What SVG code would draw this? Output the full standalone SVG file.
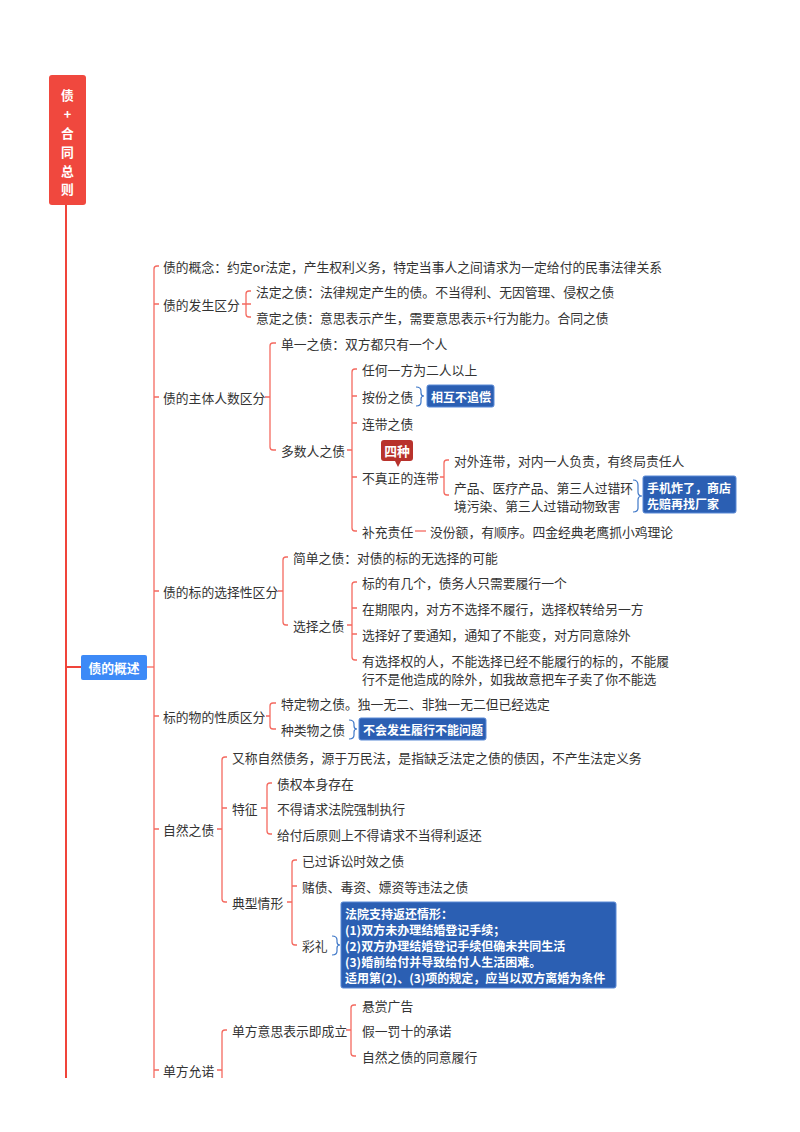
<svg xmlns="http://www.w3.org/2000/svg" width="800" height="1132" viewBox="0 0 800 1132">
<style>
text{font-family:"Noto Sans CJK SC","Liberation Sans",sans-serif;font-size:12.8px;fill:#333;dominant-baseline:central}
.w{fill:#fff;font-weight:bold}
.s{font-size:12px}
.l{fill:none;stroke:#f46a60;stroke-width:1.3}
.t{fill:none;stroke:#f0443a;stroke-width:2}
.b{fill:none;stroke:#3f78c8;stroke-width:1.2}
.bx{fill:#2b5fb3;stroke:#5b8ad6;stroke-width:1}
</style>
<rect width="800" height="1132" fill="#fff"/>
<g id="connectors">
<path class="t" d="M66,205 V1078"/>
<path class="t" d="M66,667 H81"/>
<path class="l" d="M147,667 H154"/>
<path class="l" d="M159,266 H157 Q154,266 154,269 V1078"/>
<path class="l" d="M154,304 H159 M154,397 H159 M154,591 H159 M154,716 H159 M154,829 H159 M154,1070 H159"/>
<path class="l" d="M242,304 H251 M251,291 H249 Q246,291 246,294 V314 Q246,317 249,317 H251"/>
<path class="l" d="M265,397 H270 M276,343 H273 Q270,343 270,346 V447 Q270,450 273,450 H276"/>
<path class="l" d="M347,450 H352 M357,369 H355 Q352,369 352,372 V528 Q352,531 355,531 H357 M352,396 H357 M352,423 H357 M352,477 H357"/>
<path class="b" d="M416,387 Q421,387 421,391 V393 Q421,396 424,396 Q421,396 421,399 V402 Q421,406 416,406"/>
<path class="l" d="M440,477 H444 M449,460 H447 Q444,460 444,463 V492 Q444,495 447,495 H449"/>
<path class="b" d="M633,480 Q638,480 638,485 V492 Q638,496 642,496 Q638,496 638,500 V508 Q638,512 633,512"/>
<path class="l" d="M415,531 H426"/>
<path class="l" d="M278,591 H283 M288,557 H286 Q283,557 283,560 V622 Q283,625 286,625 H288"/>
<path class="l" d="M347,625 H352 M357,582 H355 Q352,582 352,585 V657 Q352,660 355,660 H357 M352,608 H357 M352,634 H357"/>
<path class="l" d="M266,716 H270 M276,703 H273 Q270,703 270,706 V726 Q270,729 273,729 H276"/>
<path class="b" d="M349,720 Q354,720 354,724 V726 Q354,729 357,729 Q354,729 354,732 V735 Q354,739 349,739"/>
<path class="l" d="M217,829 H222 M227,757 H225 Q222,757 222,760 V899 Q222,902 225,902 H227 M222,808 H227"/>
<path class="l" d="M261,808 H267 M272,783 H270 Q267,783 267,786 V831 Q267,834 270,834 H272"/>
<path class="l" d="M287,902 H292 M297,860 H295 Q292,860 292,863 V942 Q292,945 295,945 H297 M292,886 H297"/>
<path class="b" d="M332,936 Q337,936 337,940 V942 Q337,945 340,945 Q337,945 337,948 V951 Q337,955 332,955"/>
<path class="l" d="M217,1070 H222 M227,1030 H225 Q222,1030 222,1033 V1078"/>
<path class="l" d="M346,1030 H351 M356,1005 H354 Q351,1005 351,1008 V1053 Q351,1056 354,1056 H356"/>
</g>
<g id="root">
<rect x="49" y="75" width="37" height="130" rx="3" fill="#f0483e"/>
<text class="w" x="67.5" y="94" text-anchor="middle" font-size="15">债</text>
<text class="w" x="67.5" y="113" text-anchor="middle" font-size="14">+</text>
<text class="w" x="67.5" y="132" text-anchor="middle" font-size="15">合</text>
<text class="w" x="67.5" y="151" text-anchor="middle" font-size="15">同</text>
<text class="w" x="67.5" y="170" text-anchor="middle" font-size="15">总</text>
<text class="w" x="67.5" y="188" text-anchor="middle" font-size="15">则</text>
</g>
<g id="overview">
<rect x="81" y="655" width="66" height="25" rx="2" fill="#3d8af7"/>
<text class="w" x="114" y="667.5" text-anchor="middle">债的概述</text>
</g>
<g id="n-concept"><text x="163" y="266">债的概念：约定or法定，产生权利义务，特定当事人之间请求为一定给付的民事法律关系</text></g>
<g id="n-origin"><text x="163" y="304">债的发生区分</text>
<text x="256" y="291">法定之债：法律规定产生的债。不当得利、无因管理、侵权之债</text>
<text x="256" y="317">意定之债：意思表示产生，需要意思表示+行为能力。合同之债</text></g>
<g id="n-subject"><text x="163" y="397">债的主体人数区分</text>
<text x="281" y="343">单一之债：双方都只有一个人</text>
<text x="281" y="450">多数人之债</text>
<text x="362" y="369">任何一方为二人以上</text>
<text x="362" y="396">按份之债</text>
<rect class="bx" x="427" y="385" width="67" height="22" rx="2"/>
<text class="w s" x="431" y="396">相互不追偿</text>
<text x="362" y="423">连带之债</text>
<path d="M384,440 H410 Q413,440 413,443 V458 Q413,461 410,461 H401 L398,467 L395,461 H384 Q381,461 381,458 V443 Q381,440 384,440 Z" fill="#b8322c"/>
<text x="397" y="450" text-anchor="middle" font-size="8" class="w">四种</text>
<text x="362" y="477">不真正的连带</text>
<text x="454" y="460">对外连带，对内一人负责，有终局责任人</text>
<text x="454" y="487">产品、医疗产品、第三人过错环</text>
<text x="454" y="505">境污染、第三人过错动物致害</text>
<rect class="bx" x="643" y="476" width="93" height="37" rx="2"/>
<text class="w s" x="647" y="487">手机炸了，商店</text>
<text class="w s" x="647" y="503">先赔再找厂家</text>
<text x="362" y="531">补充责任</text>
<text x="430" y="531">没份额，有顺序。四金经典老鹰抓小鸡理论</text></g>
<g id="n-select"><text x="163" y="591">债的标的选择性区分</text>
<text x="293" y="557">简单之债：对债的标的无选择的可能</text>
<text x="293" y="625">选择之债</text>
<text x="362" y="582">标的有几个，债务人只需要履行一个</text>
<text x="362" y="608">在期限内，对方不选择不履行，选择权转给另一方</text>
<text x="362" y="634">选择好了要通知，通知了不能变，对方同意除外</text>
<text x="362" y="660">有选择权的人，不能选择已经不能履行的标的，不能履</text>
<text x="362" y="678">行不是他造成的除外，如我故意把车子卖了你不能选</text></g>
<g id="n-nature"><text x="163" y="716">标的物的性质区分</text>
<text x="281" y="703">特定物之债。独一无二、非独一无二但已经选定</text>
<text x="281" y="729">种类物之债</text>
<rect class="bx" x="359" y="718" width="127" height="22" rx="2"/>
<text class="w s" x="363" y="729">不会发生履行不能问题</text></g>
<g id="n-natural"><text x="163" y="829">自然之债</text>
<text x="232" y="757">又称自然债务，源于万民法，是指缺乏法定之债的债因，不产生法定义务</text>
<text x="232" y="808">特征</text>
<text x="277" y="783">债权本身存在</text>
<text x="277" y="808">不得请求法院强制执行</text>
<text x="277" y="834">给付后原则上不得请求不当得利返还</text>
<text x="232" y="902">典型情形</text>
<text x="302" y="860">已过诉讼时效之债</text>
<text x="302" y="886">赌债、毒资、嫖资等违法之债</text>
<text x="302" y="945">彩礼</text>
<rect class="bx" x="341" y="902" width="275" height="86" rx="2"/>
<text class="w s" x="345" y="913">法院支持返还情形：</text>
<text class="w s" x="345" y="929">(1)双方未办理结婚登记手续；</text>
<text class="w s" x="345" y="945">(2)双方办理结婚登记手续但确未共同生活</text>
<text class="w s" x="345" y="961">(3)婚前给付并导致给付人生活困难。</text>
<text class="w s" x="345" y="977">适用第(2)、(3)项的规定，应当以双方离婚为条件</text></g>
<g id="n-promise"><text x="163" y="1070">单方允诺</text>
<text x="232" y="1030">单方意思表示即成立</text>
<text x="362" y="1005">悬赏广告</text>
<text x="362" y="1030">假一罚十的承诺</text>
<text x="362" y="1056">自然之债的同意履行</text></g>
</svg>
